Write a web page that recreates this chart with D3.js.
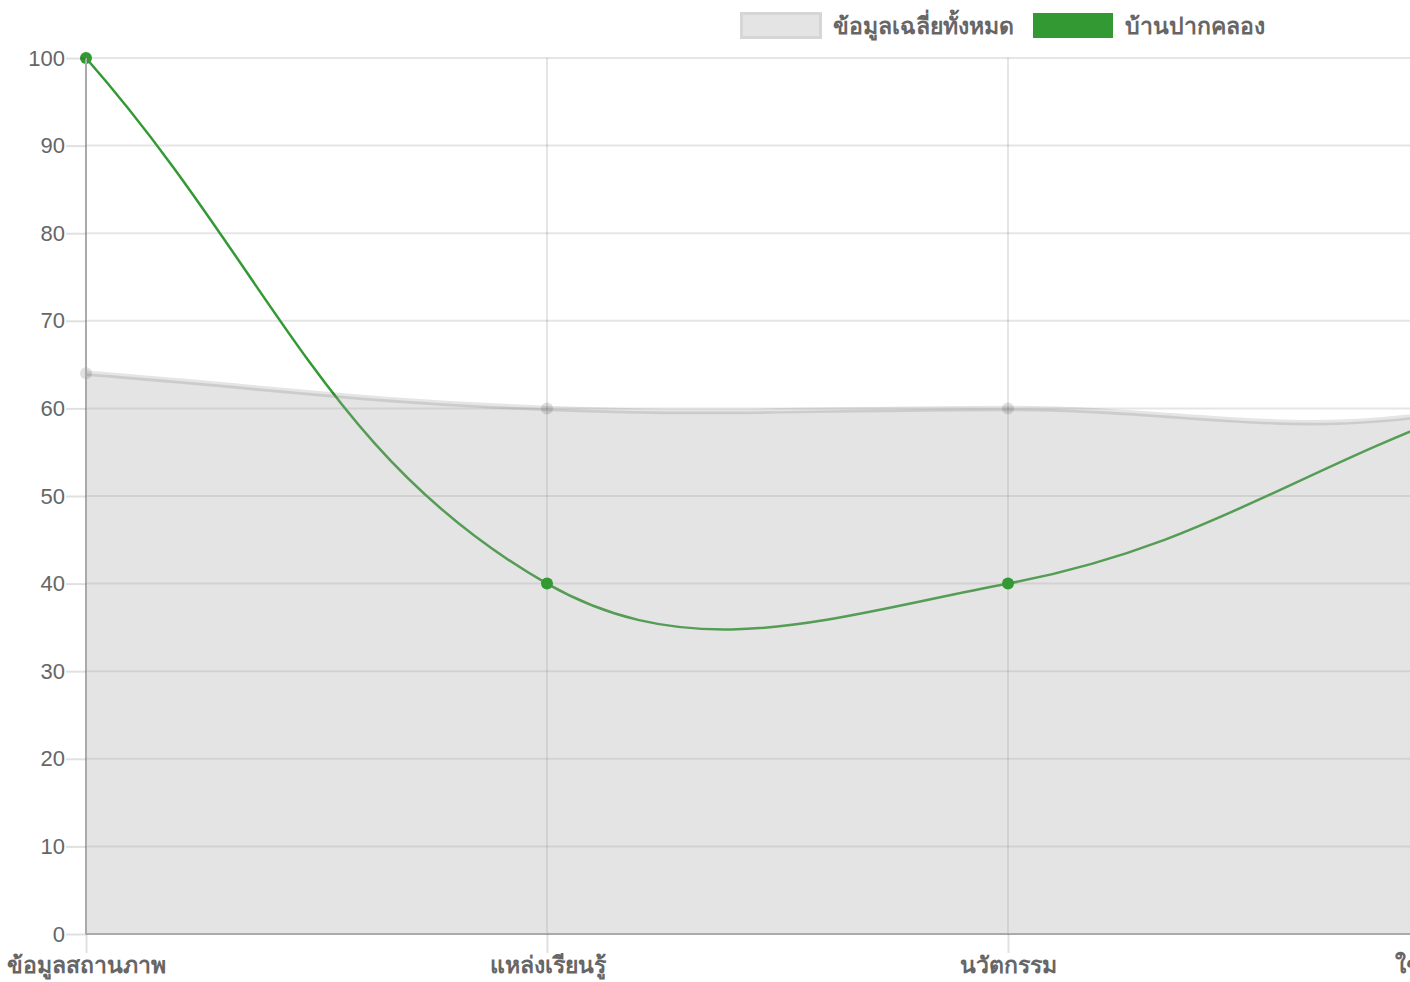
<!DOCTYPE html>
<html>
<head>
<meta charset="utf-8">
<script src="https://cdn.jsdelivr.net/npm/d3@7"></script>
<style>
  html, body { margin: 0; padding: 0; background: #fff; overflow: hidden; }
  svg { display: block; }
  text { font-family: "Helvetica Neue", Helvetica, Arial, "Liberation Sans", sans-serif; fill: #666; }
</style>
</head>
<body>
<div id="chart"></div>
<script>
// categories (the chart runs on past the right edge of the picture)
const categories = ["ข้อมูลสถานภาพ", "แหล่งเรียนรู้", "นวัตกรรม", "ใช้ประโยชน์ได้", "เครือข่าย"];
const averageValues = [64, 60, 60, 60, 79];
const villageValues = [100, 40, 40, 60, 79];
const yTicks = [0, 10, 20, 30, 40, 50, 60, 70, 80, 90, 100];
const seriesNames = ["ข้อมูลเฉลี่ยทั้งหมด", "บ้านปากคลอง"];

var w = 1410,
  h = 982,
  plotLeft = 86,
  plotTop = 58,
  plotBottom = 934,
  step = 461,
  tension = 0.4;

var svg = d3.select("#chart")
  .append("svg")
  .attr("width", w)
  .attr("height", h);

var x = d3.scalePoint()
  .domain(categories)
  .range([plotLeft, plotLeft + step * (categories.length - 1)]);

var y = d3.scaleLinear()
  .domain([0, 100])
  .range([plotBottom, plotTop]);

var plotRight = x.range()[1];

// grid
var grid = svg.append("g");
grid.selectAll("line.h")
  .data(yTicks)
  .enter()
  .append("line")
  .attr("x1", plotLeft)
  .attr("x2", plotRight)
  .attr("y1", d => y(d))
  .attr("y2", d => y(d))
  .attr("stroke", "rgba(0,0,0,0.1)")
  .attr("stroke-width", 2);

grid.selectAll("line.v")
  .data(categories)
  .enter()
  .append("line")
  .attr("x1", d => x(d))
  .attr("x2", d => x(d))
  .attr("y1", plotTop)
  .attr("y2", plotBottom)
  .attr("stroke", "rgba(0,0,0,0.1)")
  .attr("stroke-width", 2);

// chart.js style bezier control points
function controlPoints(pts) {
  var cap = p => [Math.max(plotLeft, Math.min(plotRight, p[0])), Math.max(plotTop, Math.min(plotBottom, p[1]))];
  return pts.map(function(cur, i) {
    var prev = pts[i - 1] || cur,
      next = pts[i + 1] || cur;
    var d01 = Math.hypot(cur[0] - prev[0], cur[1] - prev[1]),
      d12 = Math.hypot(next[0] - cur[0], next[1] - cur[1]);
    var s01 = d01 / (d01 + d12) || 0,
      s12 = d12 / (d01 + d12) || 0;
    var fa = tension * s01,
      fb = tension * s12;
    return {
      prev: cap([cur[0] - fa * (next[0] - prev[0]), cur[1] - fa * (next[1] - prev[1])]),
      next: cap([cur[0] + fb * (next[0] - prev[0]), cur[1] + fb * (next[1] - prev[1])])
    };
  });
}

function splinePath(values, closed) {
  var pts = values.map((v, i) => [x(categories[i]), y(v)]);
  var cps = controlPoints(pts);
  var p = d3.path();
  p.moveTo(pts[0][0], pts[0][1]);
  for (var i = 1; i < pts.length; i++) {
    p.bezierCurveTo(cps[i - 1].next[0], cps[i - 1].next[1], cps[i].prev[0], cps[i].prev[1], pts[i][0], pts[i][1]);
  }
  if (closed) {
    p.lineTo(pts[pts.length - 1][0], y(0));
    p.lineTo(pts[0][0], y(0));
    p.closePath();
  }
  return p.toString();
}

// green line sits under the translucent average area
svg.append("path")
  .attr("d", splinePath(villageValues, false))
  .attr("fill", "none")
  .attr("stroke", "#339933")
  .attr("stroke-width", 2.5);

svg.append("path")
  .attr("d", splinePath(averageValues, true))
  .attr("fill", "rgba(165,165,165,0.3)");

svg.append("path")
  .attr("d", splinePath(averageValues, false))
  .attr("fill", "none")
  .attr("stroke", "rgba(0,0,0,0.1)")
  .attr("stroke-width", 5.5);

svg.append("g")
  .selectAll("circle")
  .data(averageValues)
  .enter()
  .append("circle")
  .attr("cx", (d, i) => x(categories[i]))
  .attr("cy", d => y(d))
  .attr("r", 6)
  .attr("fill", "rgba(0,0,0,0.12)");

svg.append("g")
  .selectAll("circle")
  .data(villageValues)
  .enter()
  .append("circle")
  .attr("cx", (d, i) => x(categories[i]))
  .attr("cy", d => y(d))
  .attr("r", 6)
  .attr("fill", "#339933");

// axes
var yAxis = svg.append("g")
  .attr("transform", `translate(${plotLeft},0)`)
  .call(d3.axisLeft(y).tickValues(yTicks).tickSize(20).tickPadding(1));

var xAxis = svg.append("g")
  .attr("transform", `translate(0,${plotBottom})`)
  .call(d3.axisBottom(x).tickSize(19).tickPadding(4));

[yAxis, xAxis].forEach(function(a) {
  a.select(".domain").attr("stroke", "#aaa").attr("stroke-width", 2);
  a.selectAll(".tick line").attr("stroke", "rgba(0,0,0,0.12)").attr("stroke-width", 2);
  a.selectAll("text").attr("fill", "#666").attr("font-size", 22);
});
yAxis.select(".domain").attr("d", `M0,${plotTop}V${plotBottom}`);
xAxis.select(".domain").attr("d", `M${plotLeft},0H${plotRight}`);
xAxis.selectAll("text").attr("font-size", 23).attr("font-weight", "bold");

// legend
var legendX = [740, 1033];
var legend = svg.append("g")
  .selectAll("g")
  .data(seriesNames)
  .enter()
  .append("g")
  .attr("transform", (d, i) => `translate(${legendX[i]},12)`);

legend.append("rect")
  .attr("x", (d, i) => i ? 0 : 1.5)
  .attr("y", (d, i) => i ? 1 : 1.5)
  .attr("width", (d, i) => i ? 80 : 79)
  .attr("height", (d, i) => i ? 25 : 24)
  .attr("fill", (d, i) => i ? "#339933" : "#e4e4e4")
  .attr("stroke", (d, i) => i ? "none" : "#d6d6d6")
  .attr("stroke-width", 3);

legend.append("text")
  .attr("x", (d, i) => i ? 92 : 93)
  .attr("y", 14)
  .attr("dy", "0.35em")
  .attr("font-size", 23)
  .attr("font-weight", "bold")
  .text(d => d);
</script>
</body>
</html>
